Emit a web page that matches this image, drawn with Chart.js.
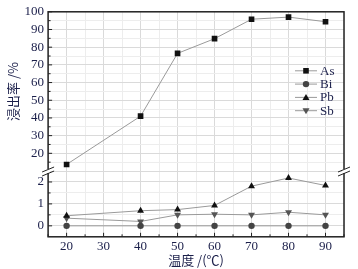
<!DOCTYPE html>
<html>
<head>
<meta charset="utf-8">
<script src="https://cdn.jsdelivr.net/npm/chart.js@4"></script>
<style>
  html, body { margin: 0; padding: 0; background: #fff; }
  #wrap { width: 358px; height: 269px; }
</style>
</head>
<body>
<div id="wrap"><canvas id="myChart"></canvas></div>
<script>
// temperatures (°C)
var temps = [20, 40, 50, 60, 70, 80, 90];
// leaching rate (%)
var asVals = [13.7, 41, 76.5, 84.8, 95.8, 97, 94.4];
var biVals = [0, 0, 0, 0, 0, 0, 0];
var pbVals = [0.46, 0.69, 0.74, 0.93, 1.81, 2.18, 1.84];
var sbVals = [0.35, 0.2, 0.5, 0.53, 0.5, 0.62, 0.5];
var seriesNames = ['As', 'Bi', 'Pb', 'Sb'];

var serif = "'Liberation Serif', 'Times New Roman', serif";
var cjk = "'Noto Sans CJK SC', sans-serif";
var txtColor = '#1b1f4a';

function pts(vals) {
  return temps.map(function (t, i) { return { x: t, y: vals[i] }; });
}

function ds(label, vals, axis, style, color, rot) {
  return {
    label: label,
    data: pts(vals),
    yAxisID: axis,
    borderColor: '#9a9a9a',
    borderWidth: 1,
    pointStyle: style,
    pointRotation: rot || 0,
    pointRadius: style === 'rect' ? 4 : (style === 'circle' ? 3.2 : 4),
    pointBackgroundColor: color,
    pointBorderColor: color,
    pointBorderWidth: 0,
    fill: false
  };
}

var frame = {
  id: 'frame',
  afterDraw: function (chart) {
    var ctx = chart.ctx, a = chart.chartArea, s = chart.scales;
    ctx.save();
    ctx.strokeStyle = '#222';
    ctx.lineWidth = 1.5;
    ctx.strokeRect(a.left, a.top, a.right - a.left, a.bottom - a.top);

    // inward ticks on left axis and bottom axis
    ctx.lineWidth = 1;
    s.yTop.ticks.forEach(function (t) {
      var y = s.yTop.getPixelForValue(t.value);
      var len = t.value % 10 === 0 ? 4 : 2.5;
      if (t.value <= 10) return;
      ctx.beginPath(); ctx.moveTo(a.left, y); ctx.lineTo(a.left + len, y); ctx.stroke();
    });
    s.yBot.ticks.forEach(function (t) {
      var y = s.yBot.getPixelForValue(t.value);
      var len = Number.isInteger(t.value) ? 4 : 2.5;
      if (t.value >= 2.5 || t.value <= -0.5) return;
      ctx.beginPath(); ctx.moveTo(a.left, y); ctx.lineTo(a.left + len, y); ctx.stroke();
    });
    s.x.ticks.forEach(function (t) {
      var x = s.x.getPixelForValue(t.value);
      var len = t.value % 10 === 0 ? 4 : 2.5;
      ctx.beginPath(); ctx.moveTo(x, a.bottom); ctx.lineTo(x, a.bottom - len); ctx.stroke();
    });

    // axis break marks
    var yb = s.yBot.top;
    [a.left, a.right].forEach(function (x) {
      ctx.fillStyle = '#fff';
      ctx.fillRect(x - 2, yb - 2, 4, 4);
      ctx.strokeStyle = '#222';
      ctx.lineWidth = 1;
      ctx.beginPath();
      ctx.moveTo(x - 6, yb + 1); ctx.lineTo(x + 6, yb - 4);
      ctx.moveTo(x - 6, yb + 5); ctx.lineTo(x + 6, yb);
      ctx.stroke();
    });

    // legend inside plot
    var lx = a.right - 49, ly = a.top + 59;
    chart.data.datasets.forEach(function (d, i) {
      var y = ly + i * 13.3;
      ctx.strokeStyle = '#9a9a9a';
      ctx.lineWidth = 1;
      ctx.beginPath(); ctx.moveTo(lx, y); ctx.lineTo(lx + 22, y); ctx.stroke();
      ctx.fillStyle = d.pointBackgroundColor;
      ctx.beginPath();
      var cx = lx + 11;
      if (d.pointStyle === 'rect') {
        ctx.rect(cx - 2.8, y - 2.8, 5.6, 5.6);
      } else if (d.pointStyle === 'circle') {
        ctx.arc(cx, y, 3.2, 0, Math.PI * 2);
      } else if (d.pointRotation) {
        ctx.moveTo(cx - 3.5, y - 2.5); ctx.lineTo(cx + 3.5, y - 2.5); ctx.lineTo(cx, y + 3.5);
      } else {
        ctx.moveTo(cx - 3.5, y + 2.5); ctx.lineTo(cx + 3.5, y + 2.5); ctx.lineTo(cx, y - 3.5);
      }
      ctx.closePath();
      ctx.fill();
      ctx.fillStyle = txtColor;
      ctx.font = '13px ' + serif;
      ctx.textBaseline = 'middle';
      ctx.fillText(d.label, lx + 25, y + 0.5);
    });
    ctx.restore();
  }
};

function gridFor(isMajor) {
  return {
    color: function (c) { return isMajor(c.tick && c.tick.value) ? '#dadada' : '#ededed'; },
    lineWidth: 1,
    drawTicks: false
  };
}

var ctx = document.getElementById('myChart').getContext('2d');
var myChart = new Chart(ctx, {
  type: 'line',
  data: {
    datasets: [
      ds(seriesNames[0], asVals, 'yTop', 'rect', '#111'),
      ds(seriesNames[1], biVals, 'yBot', 'circle', '#444'),
      ds(seriesNames[2], pbVals, 'yBot', 'triangle', '#111'),
      ds(seriesNames[3], sbVals, 'yBot', 'triangle', '#555', 180)
    ]
  },
  options: {
    responsive: true,
    maintainAspectRatio: false,
    animation: false,
    layout: { padding: { top: 4, right: 14, left: 5, bottom: 1 } },
    plugins: {
      legend: { display: false },
      tooltip: { enabled: false }
    },
    scales: {
      x: {
        type: 'linear',
        min: 15,
        max: 95,
        grid: gridFor(function (v) { return v % 10 === 0; }),
        border: { display: false },
        ticks: {
          stepSize: 5,
          autoSkip: false,
          maxRotation: 0,
          padding: 2,
          color: txtColor,
          font: { family: serif, size: 13 },
          callback: function (v) { return v % 10 === 0 ? v : ''; }
        },
        title: {
          display: true,
          text: '温度 /(℃)',
          color: txtColor,
          font: { family: cjk, size: 13 },
          padding: { top: -4, bottom: 0 }
        }
      },
      yBot: {
        type: 'linear',
        position: 'left',
        stack: 'y',
        stackWeight: 1,
        min: -0.5,
        max: 2.5,
        grid: gridFor(function (v) { return Number.isInteger(v); }),
        border: { display: false },
        ticks: {
          stepSize: 0.5,
          autoSkip: false,
          padding: 4,
          color: txtColor,
          font: { family: serif, size: 13 },
          callback: function (v) { return Number.isInteger(v) && v >= 0 ? v : ''; }
        }
      },
      yTop: {
        type: 'linear',
        position: 'left',
        stack: 'y',
        stackWeight: 2.42,
        min: 10,
        max: 100,
        grid: gridFor(function (v) { return v % 10 === 0; }),
        border: { display: false },
        ticks: {
          stepSize: 5,
          autoSkip: false,
          padding: 4,
          color: txtColor,
          font: { family: serif, size: 13 },
          callback: function (v) { return v % 10 === 0 && v >= 20 ? v : ''; }
        },
        title: {
          display: true,
          text: '浸出率 /%',
          color: txtColor,
          font: { family: cjk, size: 13 },
          padding: { top: 0, bottom: 0 }
        }
      }
    }
  },
  plugins: [frame]
});
</script>
</body>
</html>
